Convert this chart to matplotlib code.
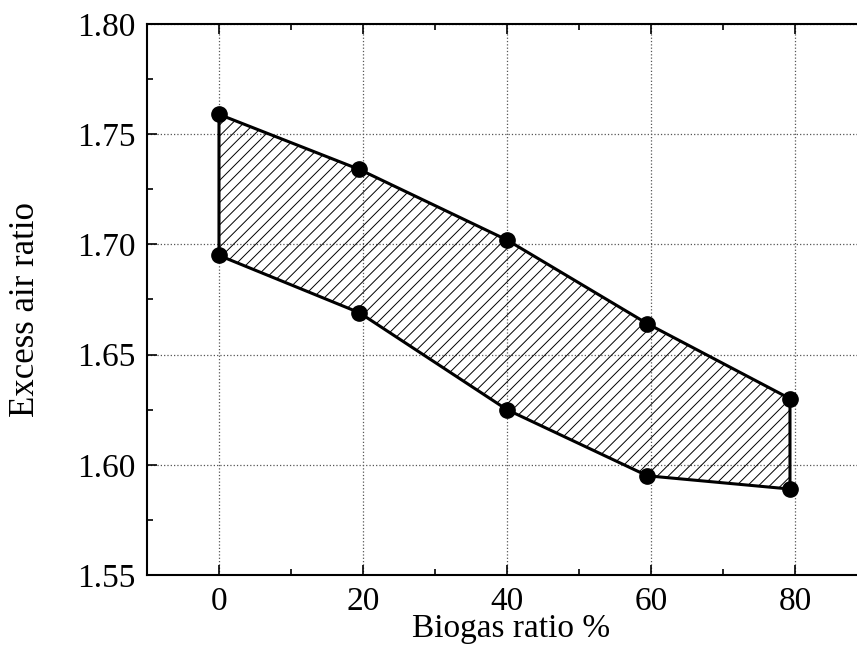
import matplotlib
matplotlib.use('Agg')
import matplotlib.pyplot as plt
from matplotlib.ticker import MultipleLocator

plt.rcParams['font.family'] = ['Liberation Serif', 'DejaVu Serif']
plt.rcParams['hatch.linewidth'] = 0.7

# biogas share and the excess air ratio limits
biogas = [0, 19.5, 40, 59.5, 79.3]
upper = [1.759, 1.734, 1.702, 1.664, 1.630]
lower = [1.695, 1.669, 1.625, 1.595, 1.589]

xticks = [0, 20, 40, 60, 80]
yticks = [1.55, 1.60, 1.65, 1.70, 1.75, 1.80]

fig = plt.figure(figsize=(8.57, 6.59), dpi=100)
ax = fig.add_axes([0.1715, 0.1275, 0.8402, 0.8361])

# closed outline: upper edge left->right then lower edge back
px = biogas + biogas[::-1] + [biogas[0]]
py = upper + lower[::-1] + [upper[0]]

ax.fill(px, py, facecolor='none', edgecolor='black', hatch='///', linewidth=0)
ax.plot(px, py, color='black', linewidth=2.2, zorder=3)
ax.plot(biogas + biogas, upper + lower, 'o', color='black', markersize=11, zorder=4)

ax.set_xlim(-10, 90)
ax.set_ylim(1.55, 1.80)
ax.set_xticks(xticks)
ax.set_yticks(yticks)
ax.set_yticklabels(['%.2f' % v for v in yticks])
ax.xaxis.set_minor_locator(MultipleLocator(10))
ax.yaxis.set_minor_locator(MultipleLocator(0.025))

ax.grid(True, which='major', linestyle=':', color='#555555', linewidth=0.9)
ax.set_axisbelow(True)

ax.tick_params(which='both', direction='in', top=True, right=False, labelsize=24, pad=8)
ax.tick_params(which='major', length=7, width=1.2)
ax.tick_params(which='minor', length=4, width=1.2)
for s in ax.spines.values():
    s.set_linewidth(1.5)

ax.set_xlabel('Biogas ratio %', fontsize=24, va='baseline')
ax.set_ylabel('Excess air ratio', fontsize=25)
ax.xaxis.set_label_coords(0.5056, -0.113)
ax.yaxis.set_label_coords(-0.1459, 0.481)

fig.savefig('out.png', dpi=100)
